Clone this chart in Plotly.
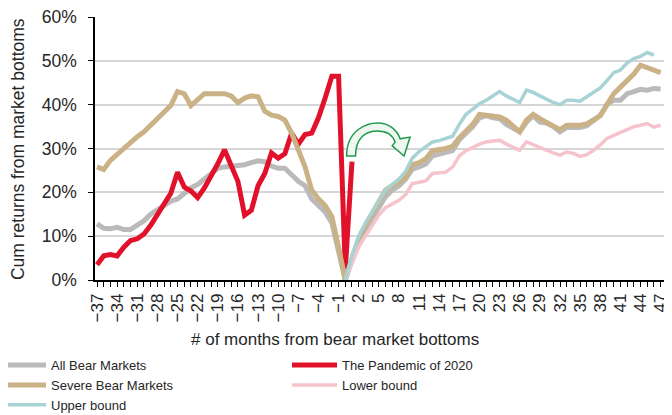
import plotly.graph_objects as go

# months from bear market bottom
months = list(range(-37, 48))
months_pandemic = list(range(-37, 2))
months_bounds = list(range(0, 48))

# cumulative returns (%)
all_bear = [
    12.8, 11.8, 11.7, 12.0, 11.5, 11.5, 12.5, 13.5, 15.0, 16.0,   # -37..-28
    17.2, 18.0, 18.5, 19.8, 21.0, 21.8, 23.0, 24.0, 25.5, 25.8,   # -27..-18
    26.0, 26.0, 26.3, 26.8, 27.2, 27.0, 26.0, 25.5, 25.5, 24.0,   # -17..-8
    22.5, 21.5, 18.5, 17.0, 15.5, 13.0, 7.0, 0.0, 4.5, 8.5,       # -7..2
    11.5, 14.0, 16.5, 19.0, 20.5, 21.5, 23.0, 25.3, 25.8, 26.5,   # 3..12
    28.3, 28.8, 29.0, 29.5, 32.0, 33.5, 35.0, 37.0, 37.5, 37.0,   # 13..22
    36.8, 35.5, 34.5, 33.8, 36.0, 37.5, 36.0, 35.8, 35.0, 33.8,   # 23..32
    34.8, 34.8, 34.8, 35.2, 36.3, 37.5, 40.0, 41.0, 41.0, 42.5,   # 33..42
    43.0, 43.5, 43.3, 43.7, 43.6,                                 # 43..47
]

severe_bear = [
    25.8, 25.2, 27.3, 28.7, 30.0, 31.5, 32.7, 33.8, 35.3, 36.5,
    38.0, 39.8, 43.0, 42.5, 39.8, 41.2, 42.5, 42.5, 42.5, 42.5,
    42.0, 40.5, 41.5, 42.0, 41.8, 38.5, 37.6, 37.3, 36.5, 33.5,
    29.7, 25.8, 20.5, 18.5, 17.0, 14.5, 7.5, 0.0, 5.0, 9.5,
    12.5, 15.0, 17.5, 20.5, 21.5, 22.3, 23.5, 26.3, 26.8, 27.7,
    29.5, 29.7, 30.0, 30.5, 32.5, 34.0, 35.5, 37.8, 37.6, 37.4,
    37.2, 36.5, 35.0, 33.8, 36.5, 37.8, 36.8, 36.0, 35.0, 34.3,
    35.3, 35.3, 35.3, 35.6, 36.5, 37.5, 40.0, 42.5, 44.0, 45.5,
    47.0, 49.0, 48.5, 48.0, 47.3,
]

pandemic = [
    3.5, 5.5, 5.8, 5.5, 7.5, 9.0, 9.4, 10.5, 12.5, 15.0,          # -37..-28
    17.3, 19.8, 24.6, 21.2, 20.3, 18.8, 21.0, 23.5, 26.5, 29.7,   # -27..-18
    26.0, 22.5, 14.8, 15.9, 21.5, 24.3, 29.0, 27.8, 28.8, 33.5,   # -17..-8
    31.0, 33.2, 33.5, 37.0, 41.5, 46.5, 46.5, 2.5, 27.0,          # -7..1
]

lower_bound = [
    0.0, 4.0, 7.5, 10.0, 12.5, 14.8, 16.5, 17.3, 18.2, 19.5,      # 0..9
    22.0, 22.3, 22.6, 24.3, 24.5, 24.6, 25.8, 28.3, 29.5, 30.3,
    31.0, 31.5, 31.8, 31.9, 31.0, 30.3, 29.6, 31.5, 30.8, 30.3,
    29.6, 29.0, 28.5, 29.2, 28.9, 28.2, 28.6, 29.6, 30.8, 32.3,
    33.0, 33.8, 34.3, 35.0, 35.3, 35.7, 34.9, 35.3,
]

upper_bound = [
    0.0, 5.5, 10.0, 13.0, 15.5, 18.0, 20.5, 21.8, 23.0, 24.8,
    27.8, 29.3, 30.5, 31.5, 31.8, 32.2, 32.8, 35.5, 37.8, 39.0,
    40.2, 41.0, 42.0, 43.0, 42.0, 41.3, 40.5, 43.3, 42.8, 42.0,
    41.2, 40.5, 40.0, 41.0, 41.0, 40.8, 41.8, 42.8, 43.8, 45.5,
    47.3, 47.9, 49.5, 50.5, 51.0, 51.9, 51.3, None,
]

FONT = "Liberation Sans, Arial, sans-serif"
TXT = "#262626"

fig = go.Figure()
fig.add_trace(go.Scatter(x=months, y=all_bear, mode="lines", name="All Bear Markets",
                         line=dict(color="#bababa", width=5)))
fig.add_trace(go.Scatter(x=months_pandemic, y=pandemic, mode="lines", name="The Pandemic of 2020",
                         line=dict(color="#e2112b", width=5)))
fig.add_trace(go.Scatter(x=months, y=severe_bear, mode="lines", name="Severe Bear Markets",
                         line=dict(color="#cbb286", width=5)))
fig.add_trace(go.Scatter(x=months_bounds, y=lower_bound, mode="lines", name="Lower bound",
                         line=dict(color="#f5c3cc", width=3.5)))
fig.add_trace(go.Scatter(x=months_bounds, y=upper_bound, mode="lines", name="Upper bound",
                         line=dict(color="#a8d3d5", width=3.5)))

# green curved arrow (decoration)
arrow = ("M 0.2,28.3 C 0.2,34.7 3.6,35.8 4.8,35.8 C 6.55,35.8 7.73,34.2 8.17,32.2 "
         "L 9.65,32.6 L 8.76,28.3 L 6.99,30.6 L 7.43,31.5 "
         "C 6.99,33.3 5.96,34.0 4.8,34.0 C 3.01,34.0 1.53,32.4 1.53,28.3 Z")
fig.add_shape(type="path", path=arrow, xref="x", yref="y",
              line=dict(color="#1f9a4b", width=1.5), fillcolor="#eef7f0")

# page body keeps its default 8px margin, so the figure is 8px smaller
fig.update_layout(
    width=664, height=407,
    margin=dict(l=87, r=8, t=9, b=135, autoexpand=False),
    plot_bgcolor="white", paper_bgcolor="white",
    font=dict(family=FONT, size=17, color=TXT),
    showlegend=True,
    legend=dict(orientation="h", x=-0.174, xanchor="left", y=-0.2666, yanchor="top",
                entrywidth=231, entrywidthmode="pixels", itemwidth=45,
                tracegroupgap=0, font=dict(size=13), bgcolor="rgba(0,0,0,0)"),
    xaxis=dict(
        range=[-37.3, 47.5], tickmode="linear", tick0=-37, dtick=3,
        tickangle=-90, ticks="outside", ticklen=5, tickcolor="black",
        showline=True, linecolor="black", linewidth=1.5, showgrid=False, zeroline=False,
        tickfont=dict(size=17), ticklabeloverflow="allow",
        minor=dict(dtick=1, tick0=-37, ticks="outside", ticklen=5, tickcolor="black", showgrid=False),
    ),
    yaxis=dict(
        range=[0, 60], dtick=10, ticksuffix="%", ticks="outside", ticklen=5, tickcolor="black",
        showline=True, linecolor="black", linewidth=1.5, showgrid=True,
        gridcolor="#d6d6d6", gridwidth=1.5, zeroline=False, tickfont=dict(size=17.5),
        ticklabelstandoff=8, ticklabeloverflow="allow",
    ),
    annotations=[
        dict(text="Cum returns from market bottoms", xref="paper", yref="paper",
             x=-0.1353, y=0.498, xanchor="center", yanchor="middle", textangle=-90,
             showarrow=False, font=dict(size=17.5)),
        dict(text="# of months from bear market bottoms", xref="paper", yref="paper",
             x=0.4218, y=-0.228, xanchor="center", yanchor="middle",
             showarrow=False, font=dict(size=17)),
    ],
)

fig.write_html("out.html")
